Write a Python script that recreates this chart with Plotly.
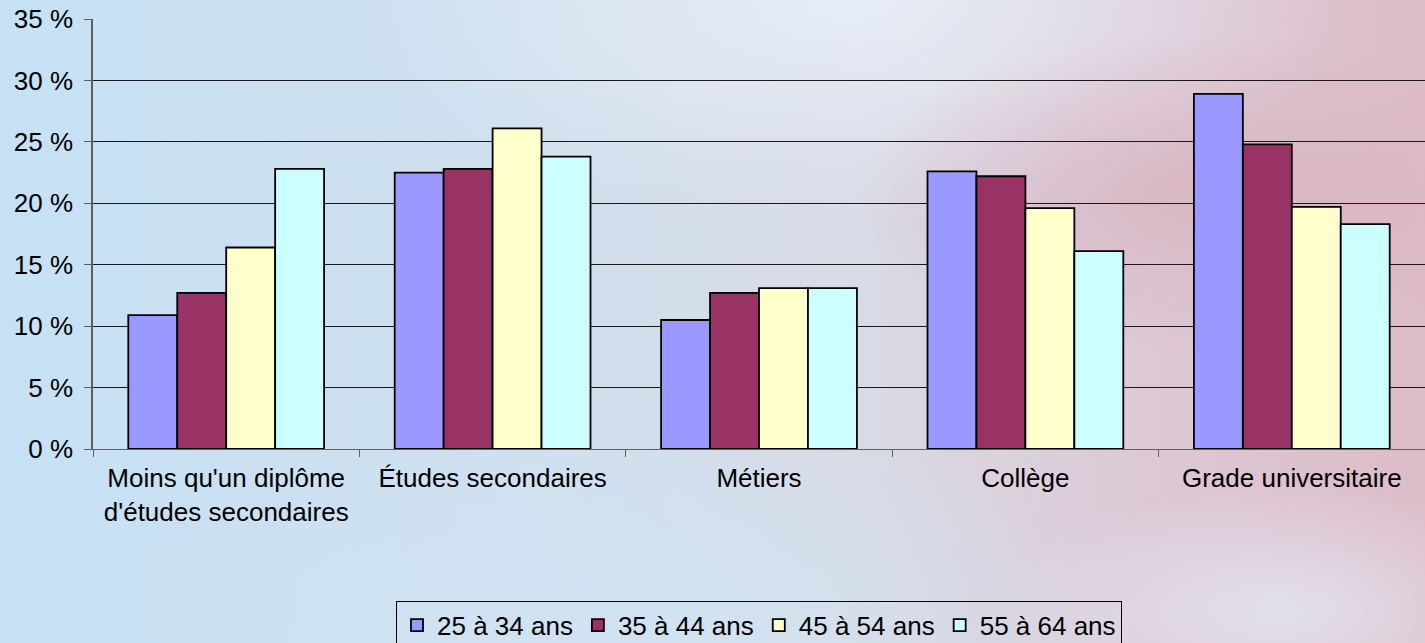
import base64
import plotly.graph_objects as go

categories = ["Moins qu'un diplôme<br>d'études secondaires", "Études secondaires",
              "Métiers", "Collège", "Grade universitaire"]
series_names = ["25 à 34 ans", "35 à 44 ans", "45 à 54 ans", "55 à 64 ans"]
v_25_34 = [10.9, 22.5, 10.5, 22.6, 28.9]
v_35_44 = [12.7, 22.8, 12.7, 22.2, 24.8]
v_45_54 = [16.4, 26.1, 13.1, 19.6, 19.7]
v_55_64 = [22.8, 23.8, 13.1, 16.1, 18.3]
colors = ["#9999FF", "#993366", "#FFFFCC", "#CCFFFF"]
y_ticks = [0, 5, 10, 15, 20, 25, 30, 35]
y_tick_text = [f"{v} %" for v in y_ticks]

# soft background resembling the reference's blurred backdrop
svg = """<svg xmlns='http://www.w3.org/2000/svg' width='1425' height='643'>
<defs>
<linearGradient id='g' x1='0' y1='0' x2='1' y2='0'>
<stop offset='0' stop-color='#c6e1f5'/>
<stop offset='0.35' stop-color='#cfe0ef'/>
<stop offset='0.6' stop-color='#d8dbe6'/>
<stop offset='0.8' stop-color='#dcc9d5'/>
<stop offset='1' stop-color='#dcbcc8'/>
</linearGradient>
<radialGradient id='w' cx='0.6' cy='0.0' r='0.35'>
<stop offset='0' stop-color='#e8eff8' stop-opacity='0.9'/>
<stop offset='1' stop-color='#e8eff8' stop-opacity='0'/>
</radialGradient>
<radialGradient id='p' cx='0.85' cy='0.3' r='0.25'>
<stop offset='0' stop-color='#d8b2bf' stop-opacity='0.8'/>
<stop offset='1' stop-color='#d8b2bf' stop-opacity='0'/>
</radialGradient>
<radialGradient id='b' cx='0.45' cy='1.0' r='0.35'>
<stop offset='0' stop-color='#d0e4f3' stop-opacity='0.8'/>
<stop offset='1' stop-color='#d0e4f3' stop-opacity='0'/>
</radialGradient>
<radialGradient id='q' cx='0.9' cy='0.95' r='0.2'>
<stop offset='0' stop-color='#e3e8f2' stop-opacity='0.8'/>
<stop offset='1' stop-color='#e3e8f2' stop-opacity='0'/>
</radialGradient>
</defs>
<rect width='1425' height='643' fill='url(#g)'/>
<rect width='1425' height='643' fill='url(#w)'/>
<rect width='1425' height='643' fill='url(#p)'/>
<rect width='1425' height='643' fill='url(#b)'/>
<rect width='1425' height='643' fill='url(#q)'/>
</svg>"""
bg_uri = "data:image/svg+xml;base64," + base64.b64encode(svg.encode()).decode()

fig = go.Figure()
for name, vals, col in zip(series_names, [v_25_34, v_35_44, v_45_54, v_55_64], colors):
    fig.add_trace(go.Bar(
        x=categories, y=vals, name=name,
        marker=dict(color=col, line=dict(color="black", width=1.8)),
    ))

fig.update_layout(
    width=1425, height=643,
    margin=dict(l=93, r=0, t=19, b=194, autoexpand=False),
    paper_bgcolor="#cfe2f2",
    plot_bgcolor="rgba(0,0,0,0)",
    barmode="group",
    bargap=0.265,
    bargroupgap=0,
    font=dict(family="Liberation Sans, Arial, sans-serif", size=26, color="black"),
    images=[dict(source=bg_uri, xref="paper", yref="paper", x=-93/1332, y=1 + 19/430,
                 sizex=1425/1332, sizey=643/430, xanchor="left", yanchor="top",
                 sizing="stretch", layer="below")],
    legend=dict(
        orientation="h", x=0.5, xanchor="center",
        y=-0.353, yanchor="top",
        bordercolor="black", borderwidth=1, bgcolor="rgba(0,0,0,0)",
        font=dict(size=26), itemwidth=30, tracegroupgap=0,
    ),
    showlegend=True,
)
fig.update_xaxes(
    tickson="boundaries", ticks="outside", ticklen=7, tickcolor="#606060",
    showline=True, linecolor="#606060", linewidth=1, automargin=False,
    tickfont=dict(size=26), ticklabelstandoff=6,
)
fig.update_yaxes(
    range=[0, 35], tickvals=y_ticks, ticktext=y_tick_text,
    ticks="outside", ticklen=7, tickcolor="#606060",
    showline=True, linecolor="#606060", linewidth=1.5, automargin=False,
    showgrid=True, gridcolor="#1a1a1a", gridwidth=1,
    zeroline=False, tickfont=dict(size=26), ticklabelstandoff=6,
)

fig.write_html("out.html", config={"displayModeBar": False},
               post_script="document.body.style.margin='0';document.body.style.overflow='hidden';")
